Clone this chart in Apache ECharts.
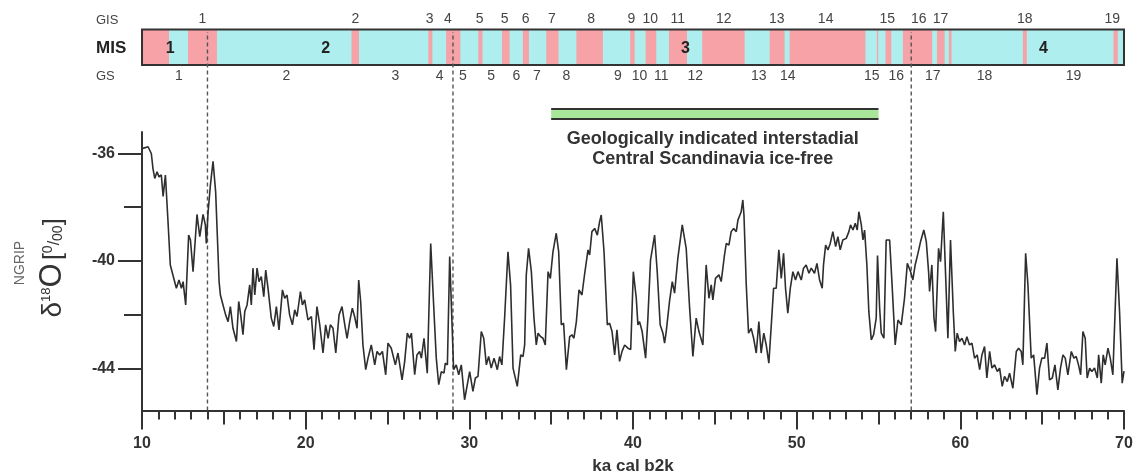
<!DOCTYPE html>
<html>
<head>
<meta charset="utf-8">
<script src="https://cdn.jsdelivr.net/npm/echarts@6/dist/echarts.min.js"></script>
<style>
  html, body { margin: 0; padding: 0; background: #fff; }
  #chart { width: 1139px; height: 475px; }
</style>
</head>
<body>
<div id="chart"></div>
<script>
// NGRIP d18O (ka b2k / permil)
const age = [
  10.06, 10.37, 10.57, 10.67, 10.78, 10.92, 11.04, 11.18, 11.29, 11.43, 11.59, 11.73, 11.86, 12.1, 12.26, 12.41,
  12.51, 12.67, 12.85, 12.96, 13.12, 13.36, 13.53, 13.73, 13.87, 13.93, 14.04, 14.18, 14.34, 14.5, 14.71, 14.79,
  14.95, 15.11, 15.26, 15.4, 15.56, 15.77, 15.91, 16.03, 16.17, 16.28, 16.42, 16.58, 16.68, 16.78, 16.89, 17.03,
  17.15, 17.29, 17.44, 17.56, 17.7, 17.9, 18.05, 18.21, 18.37, 18.58, 18.72, 18.86, 19.02, 19.19, 19.33, 19.47,
  19.68, 19.8, 19.94, 20.14, 20.35, 20.51, 20.69, 20.86, 21.06, 21.22, 21.37, 21.51, 21.67, 21.84, 22.04, 22.22,
  22.39, 22.53, 22.69, 22.85, 22.99, 23.14, 23.24, 23.36, 23.5, 23.67, 23.81, 24.01, 24.22, 24.36, 24.52, 24.69,
  24.89, 25.03, 25.23, 25.34, 25.48, 25.64, 25.89, 26.05, 26.21, 26.35, 26.46, 26.66, 26.8, 26.96, 27.07, 27.23,
  27.43, 27.64, 27.84, 27.98, 28.13, 28.29, 28.45, 28.53, 28.66, 28.8, 28.9, 29.04, 29.2, 29.35, 29.51, 29.71,
  29.82, 30.02, 30.22, 30.37, 30.53, 30.73, 30.88, 31.04, 31.18, 31.34, 31.51, 31.71, 31.85, 31.99, 32.16, 32.36,
  32.52, 32.67, 32.93, 33.14, 33.28, 33.38, 33.48, 33.62, 33.79, 33.95, 34.09, 34.2, 34.36, 34.5, 34.64, 34.81,
  34.95, 35.11, 35.31, 35.46, 35.62, 35.76, 35.93, 36.13, 36.27, 36.39, 36.54, 36.7, 36.88, 37.05, 37.25, 37.35,
  37.49, 37.66, 37.82, 37.96, 38.06, 38.23, 38.43, 38.57, 38.72, 38.88, 39.02, 39.18, 39.33, 39.49, 39.69, 39.86,
  40.02, 40.2, 40.3, 40.4, 40.56, 40.77, 40.91, 41.07, 41.32, 41.48, 41.66, 41.83, 41.93, 42.03, 42.23, 42.4,
  42.54, 42.74, 43.01, 43.25, 43.46, 43.66, 43.86, 44.03, 44.27, 44.47, 44.64, 44.78, 44.88, 45.04, 45.25, 45.39,
  45.59, 45.7, 45.86, 46.0, 46.15, 46.31, 46.41, 46.61, 46.71, 46.78, 46.92, 47.06, 47.22, 47.37, 47.53, 47.69,
  47.83, 47.99, 48.14, 48.3, 48.45, 48.59, 48.75, 48.91, 49.06, 49.2, 49.32, 49.46, 49.61, 49.77, 49.93, 50.08,
  50.28, 50.42, 50.58, 50.75, 50.89, 51.09, 51.24, 51.4, 51.56, 51.64, 51.77, 51.91, 52.05, 52.21, 52.38, 52.52,
  52.66, 52.82, 53.03, 53.19, 53.29, 53.44, 53.58, 53.7, 53.8, 53.95, 54.05, 54.15, 54.29, 54.41, 54.56, 54.7,
  54.86, 54.94, 55.07, 55.17, 55.33, 55.47, 55.68, 55.82, 56.02, 56.19, 56.39, 56.59, 56.76, 56.96, 57.1, 57.24,
  57.41, 57.57, 57.77, 57.92, 58.06, 58.12, 58.26, 58.39, 58.49, 58.67, 58.79, 58.96, 59.1, 59.24, 59.4, 59.57,
  59.69, 59.81, 59.95, 60.1, 60.26, 60.4, 60.56, 60.71, 60.87, 61.03, 61.18, 61.32, 61.48, 61.62, 61.79, 61.93,
  62.09, 62.26, 62.4, 62.56, 62.7, 62.87, 63.01, 63.21, 63.42, 63.56, 63.72, 63.82, 63.99, 64.13, 64.33, 64.48,
  64.68, 64.84, 64.98, 65.15, 65.29, 65.45, 65.62, 65.78, 65.96, 66.12, 66.27, 66.41, 66.57, 66.78, 66.94, 67.08,
  67.22, 67.35, 67.49, 67.63, 67.75, 67.9, 68.04, 68.2, 68.37, 68.45, 68.61, 68.73, 68.85, 69.02, 69.16, 69.32,
  69.57, 69.73, 69.89, 70.0
];
const d18O = [
  -35.81, -35.75, -36.0, -36.56, -36.93, -36.68, -36.87, -36.8, -37.6, -36.8, -38.54, -40.15, -40.46, -41.02, -40.71, -41.02,
  -40.77, -41.64, -39.04, -39.22, -40.4, -38.27, -39.1, -38.27, -38.66, -39.35, -38.17, -37.18, -36.29, -37.43, -40.77, -41.27,
  -41.64, -42.01, -42.26, -41.7, -42.51, -43.0, -41.51, -42.01, -42.75, -41.88, -41.64, -40.89, -41.64, -40.27, -41.27, -40.27,
  -40.77, -40.58, -41.33, -40.34, -41.02, -42.13, -42.44, -41.7, -42.57, -41.08, -41.39, -41.27, -42.01, -42.38, -41.82, -42.07,
  -41.14, -41.64, -41.45, -42.2, -42.07, -43.31, -41.7, -42.38, -43.43, -42.38, -42.88, -42.38, -42.51, -43.43, -42.01, -41.7,
  -42.38, -42.88, -42.26, -41.76, -42.07, -42.51, -40.71, -41.51, -43.13, -44.05, -43.62, -43.13, -43.87, -43.37, -43.5, -43.37,
  -44.24, -43.06, -43.25, -43.19, -43.87, -43.43, -44.43, -43.74, -42.69, -42.88, -42.69, -44.24, -43.5, -43.37, -43.62, -42.88,
  -44.18, -39.35, -41.89, -43.62, -44.61, -44.12, -44.18, -43.81, -43.87, -39.84, -39.9, -44.05, -43.87, -44.24, -43.87, -45.17,
  -45.11, -44.12, -44.86, -44.36, -44.3, -42.63, -42.88, -43.87, -43.56, -43.99, -43.62, -44.05, -43.56, -43.87, -42.07, -39.66,
  -40.89, -43.99, -44.67, -43.5, -43.56, -43.13, -40.52, -39.53, -40.4, -42.13, -43.13, -42.69, -42.82, -42.88, -43.13, -40.4,
  -40.65, -39.66, -38.97, -39.66, -42.38, -42.32, -44.05, -42.82, -42.75, -42.88, -42.26, -41.08, -41.27, -40.46, -39.59, -39.78,
  -38.91, -38.79, -39.04, -38.54, -38.29, -39.66, -42.38, -42.32, -42.63, -43.5, -42.57, -43.74, -43.37, -43.13, -43.25, -43.3,
  -40.4, -41.39, -42.38, -42.26, -42.63, -43.62, -42.13, -39.97, -39.04, -40.4, -42.38, -42.69, -43.06, -42.63, -41.51, -40.77,
  -41.2, -39.9, -38.66, -39.53, -41.76, -43.56, -42.13, -42.63, -43.13, -40.15, -41.39, -40.89, -41.45, -40.65, -40.52, -40.77,
  -39.78, -39.35, -39.41, -38.91, -38.79, -38.91, -38.48, -38.17, -37.73, -38.29, -40.89, -42.69, -42.51, -42.88, -43.43, -42.26,
  -43.43, -42.69, -43.13, -43.81, -42.38, -41.02, -41.02, -39.59, -40.65, -39.72, -41.02, -41.95, -41.02, -40.4, -40.71, -40.4,
  -40.71, -40.27, -40.15, -40.46, -40.27, -40.46, -40.09, -40.71, -41.02, -40.15, -39.41, -39.59, -39.35, -38.91, -39.47, -39.1,
  -39.59, -39.22, -39.16, -38.91, -38.66, -38.85, -38.6, -38.85, -38.17, -38.66, -39.22, -38.85, -40.15, -41.89, -42.94, -42.75,
  -42.13, -39.8, -41.76, -42.69, -42.88, -39.22, -39.22, -40.77, -43.13, -42.2, -42.38, -41.39, -40.09, -40.4, -40.71, -40.15,
  -39.72, -39.28, -38.85, -39.28, -40.4, -41.14, -40.15, -42.13, -42.63, -39.53, -40.03, -38.17, -40.52, -42.88, -39.22, -41.89,
  -43.37, -42.69, -43.0, -42.88, -43.13, -42.82, -43.13, -43.06, -43.62, -43.5, -44.05, -43.5, -43.19, -44.36, -43.37, -43.99,
  -43.87, -44.12, -43.99, -44.67, -44.3, -44.49, -44.18, -44.74, -43.37, -43.25, -43.37, -43.87, -39.72, -40.89, -43.62, -43.5,
  -44.98, -43.99, -43.62, -43.62, -43.06, -44.43, -44.36, -43.87, -44.8, -43.99, -43.5, -43.62, -44.24, -43.37, -43.62, -43.56,
  -43.87, -44.24, -42.63, -42.88, -44.36, -43.99, -44.12, -43.99, -44.36, -43.5, -44.55, -43.5, -43.87, -43.25, -43.62, -44.24,
  -39.9, -41.89, -44.55, -44.1
];

// interstadial (pink) stretches of the MIS bar, in ka
const gisStart = [10, 12.81, 22.8, 27.5, 28.58, 30.55, 32.0, 33.27, 34.7, 36.54, 39.83, 40.77, 42.2, 44.23,
  48.35, 49.57, 54.9, 55.43, 56.49, 58.57, 59.3, 63.82, 69.36];
const gisEnd = [11.65, 14.58, 23.26, 27.74, 29.45, 30.8, 32.46, 33.64, 35.45, 38.16, 40.1, 41.42, 43.3, 46.82,
  49.26, 54.2, 54.98, 55.78, 58.28, 59.04, 59.46, 64.06, 69.62];

const gisLabels = ['1', '2', '3', '4', '5', '5', '6', '7', '8', '9', '10', '11', '12', '13', '14', '15', '16', '17', '18', '19'];
const gisLabelAge = [13.69, 23.04, 27.57, 28.69, 30.63, 32.16, 33.44, 35.05, 37.45, 39.9, 41.06, 42.74, 45.55,
  48.79, 51.77, 55.53, 57.46, 58.79, 63.94, 69.28];
const gsLabels = ['1', '2', '3', '4', '5', '5', '6', '7', '8', '9', '10', '11', '12', '13', '14', '15', '16', '17', '18', '19'];
const gsLabelAge = [12.26, 18.82, 25.48, 28.19, 29.61, 31.34, 32.87, 34.13, 35.93, 39.08, 40.4, 41.73, 43.8,
  47.69, 49.46, 54.59, 56.08, 58.32, 61.48, 66.92];
const misLabels = ['1', '2', '3', '4'];
const misLabelAge = [11.73, 21.22, 43.2, 65.08];

const misBoundaries = [14, 29, 57];
const iceFree = [35, 55];
const iceFreeText = 'Geologically indicated interstadial\nCentral Scandinavia ice-free';

const yTicks = [-44, -42, -40, -38, -36];
const yLabels = [-44, -40, -36];
const Y_MIN = -45.57, Y_MAX = -35.2;

const FONT = '"Liberation Sans", Arial, Helvetica, sans-serif';
const PINK = '#f6a2a7';
const CYAN = '#aeeeee';
const DARK = '#333';

const myChart = echarts.init(document.getElementById('chart'));

function textItem(x, y, text, font, fill) {
  return {
    type: 'text', x: x, y: y,
    style: { text: text, font: font, fill: fill, align: 'center', verticalAlign: 'middle' }
  };
}

const option = {
  animation: false,
  backgroundColor: '#fff',
  grid: [
    { left: 142, right: 15, top: 132, bottom: 64.5, outerBoundsMode: 'none' },
    { left: 142, right: 15, top: 29.5, height: 35.5, outerBoundsMode: 'none',
      show: true, backgroundColor: CYAN, borderWidth: 0 }
  ],
  xAxis: [
    {
      gridIndex: 0, type: 'value', position: 'bottom', min: 10, max: 70, interval: 10,
      axisLine: { show: true, onZero: false, lineStyle: { color: DARK, width: 2 } },
      axisTick: { show: true, length: 19, lineStyle: { color: DARK, width: 2 } },
      axisLabel: { margin: 25, fontFamily: FONT, fontWeight: 'bold', fontSize: 16, color: DARK },
      splitLine: { show: false },
      name: 'ka cal b2k', nameLocation: 'middle', nameGap: 47,
      nameTextStyle: { fontFamily: FONT, fontWeight: 'bold', fontSize: 17, color: DARK }
    },
    {
      gridIndex: 0, type: 'value', position: 'bottom', min: 10, max: 70, interval: 5,
      axisLine: { show: false, onZero: false },
      axisTick: { show: true, length: 14, lineStyle: { color: DARK, width: 2 } },
      axisLabel: { show: false }, splitLine: { show: false }
    },
    {
      gridIndex: 0, type: 'value', position: 'bottom', min: 10, max: 70, interval: 1,
      axisLine: { show: false, onZero: false },
      axisTick: { show: true, length: 9, lineStyle: { color: DARK, width: 2 } },
      axisLabel: { show: false }, splitLine: { show: false }
    },
    { gridIndex: 1, type: 'value', min: 10, max: 70, show: false }
  ],
  yAxis: [
    {
      gridIndex: 0, type: 'value', position: 'left', min: Y_MIN, max: Y_MAX,
      axisLine: { show: true, onZero: false, lineStyle: { color: DARK, width: 2 } },
      axisTick: { show: true, length: 18, customValues: yTicks, lineStyle: { color: DARK, width: 2 } },
      axisLabel: { customValues: yLabels, margin: 27, fontFamily: FONT, fontWeight: 'bold', fontSize: 16, color: DARK },
      splitLine: { show: false }
    },
    {
      gridIndex: 0, type: 'value', position: 'left', min: Y_MIN, max: Y_MAX,
      axisLine: { show: false, onZero: false },
      axisTick: { show: true, length: 24, customValues: yLabels, lineStyle: { color: DARK, width: 2 } },
      axisLabel: { show: false }, splitLine: { show: false }
    },
    { gridIndex: 1, type: 'value', min: 0, max: 1, show: false }
  ],
  graphic: [
    { type: 'text', x: 96, y: 20, style: { text: 'GIS', font: '13px ' + FONT, fill: '#444', verticalAlign: 'middle' } },
    { type: 'text', x: 96, y: 48, style: { text: 'MIS', font: 'bold 17px ' + FONT, fill: '#222', verticalAlign: 'middle' } },
    { type: 'text', x: 96, y: 76, style: { text: 'GS', font: '13px ' + FONT, fill: '#444', verticalAlign: 'middle' } },
    {
      type: 'text', x: 20, y: 263, rotation: Math.PI / 2,
      style: { text: 'NGRIP', font: '14px ' + FONT, fill: '#666', align: 'center', verticalAlign: 'middle' }
    },
    {
      type: 'text', x: 52, y: 268, rotation: Math.PI / 2,
      style: {
        text: '{d|δ}{s|18}{o|O} {b|[}{p|0}{sl|/}{q|00}{b|]}',
        align: 'center', verticalAlign: 'middle',
        rich: {
          d: { fontSize: 28, fontFamily: FONT, fill: DARK, verticalAlign: 'bottom' },
          s: { fontSize: 13, fontFamily: FONT, fill: DARK, verticalAlign: 'bottom', padding: [0, 0, 15, 0] },
          o: { fontSize: 31, fontFamily: FONT, fill: DARK, verticalAlign: 'bottom' },
          b: { fontSize: 25, fontFamily: FONT, fill: DARK, verticalAlign: 'bottom', padding: [0, 0, 1, 0] },
          p: { fontSize: 14, fontFamily: FONT, fill: DARK, verticalAlign: 'bottom', padding: [0, 0, 12, 0] },
          sl: { fontSize: 16, fontFamily: FONT, fill: DARK, verticalAlign: 'bottom', padding: [0, 0, 5, 0] },
          q: { fontSize: 14, fontFamily: FONT, fill: DARK, verticalAlign: 'bottom', padding: [0, 0, 2, 0] }
        }
      }
    }
  ],
  series: [
    {
      // pink interstadial stripes on the cyan MIS bar
      type: 'custom', xAxisIndex: 3, yAxisIndex: 2, z: 1,
      data: gisStart.map((s, i) => [s, gisEnd[i]]),
      renderItem: function (params, api) {
        const p0 = api.coord([api.value(0), 1]);
        const p1 = api.coord([api.value(1), 0]);
        return {
          type: 'rect',
          shape: { x: p0[0], y: p0[1], width: p1[0] - p0[0], height: p1[1] - p0[1] },
          style: { fill: PINK }
        };
      }
    },
    {
      // frame of the bar
      type: 'custom', xAxisIndex: 3, yAxisIndex: 2, z: 2,
      data: [[10, 70]],
      renderItem: function (params, api) {
        const p0 = api.coord([api.value(0), 1]);
        const p1 = api.coord([api.value(1), 0]);
        return {
          type: 'rect',
          shape: { x: p0[0], y: p0[1], width: p1[0] - p0[0], height: p1[1] - p0[1] },
          style: { fill: 'none', stroke: DARK, lineWidth: 2 }
        };
      }
    },
    {
      type: 'custom', xAxisIndex: 3, yAxisIndex: 2, z: 5,
      data: misLabelAge.map(a => [a, 0.5]),
      renderItem: function (params, api) {
        const p = api.coord([api.value(0), 0.5]);
        return textItem(p[0], p[1] + 1, misLabels[params.dataIndex], 'bold 16px ' + FONT, '#222');
      }
    },
    {
      type: 'custom', xAxisIndex: 3, yAxisIndex: 2, z: 5,
      data: gisLabelAge.map(a => [a, 1]),
      renderItem: function (params, api) {
        const p = api.coord([api.value(0), 1]);
        return textItem(p[0], p[1] - 10, gisLabels[params.dataIndex], '14px ' + FONT, '#444');
      }
    },
    {
      type: 'custom', xAxisIndex: 3, yAxisIndex: 2, z: 5,
      data: gsLabelAge.map(a => [a, 0]),
      renderItem: function (params, api) {
        const p = api.coord([api.value(0), 0]);
        return textItem(p[0], p[1] + 11, gsLabels[params.dataIndex], '14px ' + FONT, '#444');
      }
    },
    {
      // MIS boundaries, dashed, from the bar down to the axis
      type: 'custom', xAxisIndex: 0, yAxisIndex: 0, z: 3,
      data: misBoundaries.map(b => [b, Y_MIN]),
      renderItem: function (params, api) {
        const p = api.coord([api.value(0), Y_MIN]);
        return {
          type: 'line',
          shape: { x1: p[0], y1: p[1], x2: p[0], y2: 32 },
          style: { stroke: '#555', lineWidth: 1.4, lineDash: [4, 3] }
        };
      }
    },
    {
      // ice-free interval bar + caption
      type: 'custom', xAxisIndex: 0, yAxisIndex: 0, z: 3,
      data: [iceFree],
      renderItem: function (params, api) {
        const a = api.coord([api.value(0), Y_MAX]);
        const b = api.coord([api.value(1), Y_MAX]);
        const top = a[1] - 23;
        return {
          type: 'group',
          children: [
            { type: 'rect', shape: { x: a[0], y: top, width: b[0] - a[0], height: 10 }, style: { fill: '#a8e69a' } },
            { type: 'line', shape: { x1: a[0], y1: top, x2: b[0], y2: top }, style: { stroke: DARK, lineWidth: 2 } },
            { type: 'line', shape: { x1: a[0], y1: top + 10, x2: b[0], y2: top + 10 }, style: { stroke: DARK, lineWidth: 2 } },
            {
              type: 'text', x: (a[0] + b[0]) / 2 - 2, y: a[1] - 3,
              style: {
                text: iceFreeText, font: 'bold 18px ' + FONT, fill: DARK,
                align: 'center', verticalAlign: 'top', lineHeight: 20
              }
            }
          ]
        };
      }
    },
    {
      name: 'NGRIP d18O',
      type: 'line', xAxisIndex: 0, yAxisIndex: 0, z: 4,
      symbol: 'none',
      lineStyle: { color: '#2e2e2e', width: 1.6 },
      data: age.map((a, i) => [a, d18O[i]])
    }
  ]
};

myChart.setOption(option);
</script>
</body>
</html>
